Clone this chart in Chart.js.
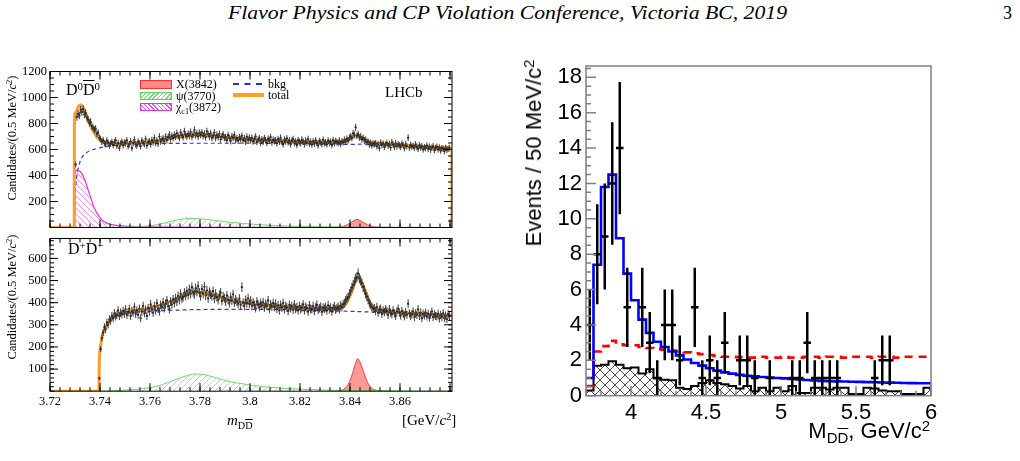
<!DOCTYPE html>
<html>
<head>
<meta charset="utf-8">
<title>D Dbar mass spectra</title>
<script src="https://cdn.jsdelivr.net/npm/chart.js@4.4.1/dist/chart.umd.min.js"></script>
<style>
  body { margin: 0; width: 1020px; height: 461px; background: #fff; position: relative; overflow: hidden; font-family: 'Liberation Serif', serif; color: #000; }
  .t { position: absolute; white-space: nowrap; line-height: 1; }
  canvas { position: absolute; }
  .sup { font-size: 68%; position: relative; top: -0.5em; }
  .sub { font-size: 68%; position: relative; top: 0.35em; }
  .ov { text-decoration: overline; }
  .rot { transform: translate(-50%, -50%) rotate(-90deg); }
  .sw { position: absolute; box-sizing: border-box; }
  .sans { font-family: 'Liberation Sans', Arial, sans-serif; }
</style>
</head>
<body>
<div id="hdr" class="t" style="left:228px; top:4px; font-size:18px; font-style:italic; transform-origin:0 0;">Flavor Physics and CP Violation Conference, Victoria BC, 2019</div>
<div class="t" style="left:1003px; top:4px; font-size:18px;">3</div>

<canvas id="topChart" width="460" height="178" style="left:0; top:60px;"></canvas>
<canvas id="botChart" width="460" height="200" style="left:0; top:228px;"></canvas>
<canvas id="rightChart" width="460" height="421" style="left:500px; top:40px;"></canvas>

<!-- left panel labels -->
<div class="t rot" style="left:12px; top:138px; font-size:12.5px;">Candidates/(0.5 MeV/<i>c</i><span class="sup">2</span>)</div>
<div class="t rot" style="left:12px; top:297px; font-size:12.5px;">Candidates/(0.5 MeV/<i>c</i><span class="sup">2</span>)</div>
<div class="t" style="left:66px; top:82px; font-size:16px;">D<span class="sup">0</span><span class="ov">D</span><span class="sup">0</span></div>
<div class="t" style="left:68px; top:241px; font-size:16px;">D<span class="sup">+</span>D<span class="sup">&minus;</span></div>
<div class="t" style="left:385px; top:85px; font-size:15px;">LHCb</div>
<div class="t" style="left:227px; top:413px; font-size:15px;"><i>m</i><span class="sub">D<span class="ov">D</span></span></div>
<div class="t" style="left:402px; top:413px; font-size:15px;">[GeV/<i>c</i><span class="sup">2</span>]</div>

<!-- legend -->
<div class="sw" style="left:140px; top:80px; width:32px; height:9px; background:#ff8a8a; border:1px solid #ff3030;"></div>
<div class="sw" style="left:140px; top:92px; width:32px; height:8px; border:1px solid #55d855; background:repeating-linear-gradient(135deg, #66dd66 0 1px, #fff 1px 3px);"></div>
<div class="sw" style="left:140px; top:103px; width:32px; height:8px; border:1px solid #e033e0; background:repeating-linear-gradient(45deg, #e055e0 0 1px, #fff 1px 3px);"></div>
<div class="t" style="left:176px; top:78px; font-size:12px;">X(3842)</div>
<div class="t" style="left:176px; top:90px; font-size:12px;">&psi;(3770)</div>
<div class="t" style="left:176px; top:101px; font-size:12px;">&chi;<span class="sub">c1</span>(3872)</div>
<div class="sw" style="left:233px; top:83px; width:29px; height:0; border-top:2px dashed #2b2bd8;"></div>
<div class="sw" style="left:233px; top:93px; width:31px; height:4px; background:#ffa41c;"></div>
<div class="t" style="left:268px; top:78px; font-size:12px;">bkg</div>
<div class="t" style="left:268px; top:89px; font-size:12px;">total</div>

<!-- right panel labels -->
<div class="t rot sans" style="left:534px; top:153px; font-size:22px;">Events / 50 MeV/c<span class="sup">2</span></div>
<div class="t sans" style="right:90px; top:420px; font-size:22px;">M<span class="sub">D<span class="ov">D</span></span>, GeV/c<span class="sup">2</span></div>

<script>
// ---------- tick labels ----------
const topYTicks = [200, 400, 600, 800, 1000, 1200];
const botYTicks = [100, 200, 300, 400, 500, 600];
const massTicks = [3.72, 3.74, 3.76, 3.78, 3.80, 3.82, 3.84, 3.86];
const rightXTicks = [4, 4.5, 5, 5.5, 6];
const rightYTicks = [0, 2, 4, 6, 8, 10, 12, 14, 16, 18];

// ---------- D0 D0bar candidates, 0.5 MeV bins ----------
const d0Start = 3.73025;
const binStep = 0.0005;
const d0Counts = [
  485, 850, 875, 862, 905, 888, 910, 870, 880, 845,
  830, 805, 812, 780, 765, 752, 760, 722, 728, 690,
  680, 660, 672, 648, 640, 668, 652, 630, 645, 658,
  635, 655, 670, 628, 650, 612, 645, 660, 632, 655,
  648, 670, 625, 640, 662, 610, 650, 675, 640, 630,
  660, 645, 625, 668, 650, 642, 680, 630, 655, 662,
  640, 672, 655, 690, 650, 668, 645, 700, 662, 675,
  685, 660, 700, 672, 695, 715, 680, 705, 690, 712,
  698, 725, 705, 688, 730, 710, 695, 740, 712, 700,
  720, 705, 735, 698, 715, 750, 710, 725, 700, 728,
  712, 730, 705, 722, 695, 740, 718, 700, 725, 690,
  705, 730, 688, 712, 695, 720, 678, 700, 716, 690,
  695, 672, 710, 688, 665, 700, 690, 712, 675, 685,
  668, 695, 680, 705, 670, 688, 660, 698, 675, 690,
  670, 690, 662, 680, 700, 658, 675, 685, 650, 678,
  660, 688, 672, 650, 682, 668, 695, 655, 675, 665,
  672, 648, 680, 660, 690, 658, 640, 675, 662, 685,
  655, 670, 640, 668, 680, 650, 662, 635, 672, 658,
  648, 675, 660, 640, 668, 652, 680, 645, 660, 638,
  662, 645, 670, 650, 632, 665, 655, 642, 675, 648,
  655, 640, 668, 650, 660, 635, 672, 648, 665, 658,
  650, 668, 642, 662, 655, 675, 660, 682, 670, 690,
  700, 690, 725, 712, 770, 705, 718, 692, 700, 678,
  690, 668, 675, 655, 660, 638, 650, 632, 645, 640,
  648, 625, 640, 610, 652, 635, 645, 620, 638, 650,
  630, 642, 615, 655, 638, 620, 648, 625, 640, 632,
  620, 645, 632, 610, 640, 625, 690, 615, 635, 622,
  628, 612, 640, 620, 605, 632, 615, 625, 600, 618,
  610, 630, 605, 622, 598, 615, 625, 595, 612, 620,
  600, 615, 592, 610, 605, 588, 612, 598, 604, 610
];

// ---------- D+ D- candidates, 0.5 MeV bins ----------
const dpStart = 3.73975;
const dpCounts = [
  58, 190, 240, 265, 290, 280, 310, 300, 325, 318,
  340, 330, 352, 338, 345, 365, 340, 355, 348, 362,
  350, 370, 345, 358, 372, 340, 362, 355, 380, 350,
  365, 345, 372, 330, 360, 385, 352, 368, 340, 375,
  360, 392, 370, 355, 385, 365, 398, 372, 360, 390,
  380, 402, 375, 395, 410, 385, 370, 405, 392, 415,
  398, 420, 405, 430, 412, 440, 418, 425, 445, 430,
  452, 435, 460, 440, 470, 448, 438, 465, 450, 475,
  445, 430, 462, 440, 472, 432, 455, 420, 448, 438,
  430, 452, 418, 440, 425, 412, 435, 445, 408, 428,
  420, 405, 432, 412, 398, 425, 410, 438, 400, 415,
  405, 395, 418, 390, 470, 400, 385, 412, 398, 420,
  395, 410, 385, 402, 390, 375, 405, 392, 380, 398,
  388, 402, 378, 395, 385, 410, 372, 392, 382, 398,
  380, 395, 372, 388, 365, 390, 378, 398, 370, 385,
  378, 362, 390, 375, 385, 368, 392, 372, 380, 365,
  385, 370, 378, 392, 365, 382, 375, 360, 388, 372,
  370, 385, 362, 378, 390, 368, 375, 382, 358, 378,
  372, 380, 365, 388, 370, 378, 360, 375, 385, 368,
  375, 382, 370, 388, 380, 392, 398, 410, 418, 425,
  440, 452, 468, 480, 495, 508, 515, 532, 510, 500,
  488, 470, 458, 440, 428, 412, 398, 390, 380, 372,
  375, 362, 380, 355, 368, 372, 350, 365, 358, 370,
  362, 345, 370, 355, 348, 365, 352, 340, 360, 372,
  355, 342, 362, 350, 338, 358, 345, 395, 352, 340,
  348, 360, 335, 352, 345, 370, 340, 355, 330, 350,
  342, 355, 338, 350, 332, 345, 360, 335, 348, 340,
  338, 350, 328, 345, 335, 352, 330, 342, 325, 348,
  340
];

// ---------- fit components [mass, candidates] ----------
const d0Total = [[3.72,0],[3.7297,0],[3.72975,830],[3.7303,885],[3.7312,925],[3.7322,945],[3.7332,925],[3.7342,880],[3.7352,830],[3.7362,785],[3.7372,745],[3.7382,712],[3.7392,688],[3.741,665],[3.743,652],[3.746,646],[3.75,648],[3.755,652],[3.76,660],[3.765,675],[3.77,695],[3.775,710],[3.78,712],[3.785,705],[3.79,695],[3.795,685],[3.80,677],[3.81,667],[3.82,660],[3.83,655],[3.835,655],[3.838,662],[3.8405,685],[3.8427,703],[3.845,690],[3.8475,663],[3.85,650],[3.855,642],[3.86,635],[3.87,622],[3.88075,610],[3.8808,0]];
const d0Bkg = [[3.7297,0],[3.7301,250],[3.7307,390],[3.7315,470],[3.7325,530],[3.734,567],[3.737,597],[3.74,613],[3.745,630],[3.75,640],[3.76,645],[3.78,648],[3.80,648],[3.82,645],[3.84,640],[3.85,642],[3.86,634],[3.87,621],[3.8808,608]];
const d0Chi = [[3.7297,0],[3.72975,440],[3.7305,440],[3.7315,435],[3.7324,425],[3.7335,385],[3.7345,335],[3.7355,275],[3.7365,215],[3.7375,160],[3.7385,120],[3.7395,90],[3.741,55],[3.743,32],[3.746,18],[3.75,11],[3.755,7],[3.76,5],[3.77,3],[3.78,2],[3.80,1],[3.8808,0]];
const d0Psi = [[3.72,0],[3.74,1],[3.75,3],[3.755,6],[3.76,14],[3.764,26],[3.768,45],[3.772,62],[3.776,70],[3.78,67],[3.785,57],[3.79,45],[3.795,35],[3.80,27],[3.81,15],[3.82,9],[3.83,5],[3.84,3],[3.86,1],[3.8808,0]];
const d0X = [[3.832,0],[3.835,2],[3.837,8],[3.839,22],[3.8405,40],[3.842,58],[3.8428,62],[3.8436,58],[3.845,42],[3.847,22],[3.849,8],[3.851,2],[3.854,0]];

const dpTotal = [[3.72,0],[3.7396,0],[3.7397,120],[3.74,185],[3.7405,225],[3.741,255],[3.742,285],[3.743,305],[3.744,320],[3.745,332],[3.747,345],[3.75,355],[3.755,365],[3.76,376],[3.765,392],[3.77,415],[3.774,435],[3.778,447],[3.782,443],[3.786,430],[3.79,416],[3.795,405],[3.80,396],[3.81,385],[3.82,377],[3.83,372],[3.835,374],[3.838,388],[3.8405,445],[3.8425,505],[3.8433,514],[3.8445,495],[3.846,455],[3.848,400],[3.85,372],[3.855,362],[3.86,356],[3.87,349],[3.8808,342]];
const dpBkg = [[3.7396,0],[3.7397,120],[3.74,185],[3.7405,225],[3.741,255],[3.742,284],[3.743,303],[3.744,317],[3.745,327],[3.747,339],[3.75,349],[3.755,357],[3.76,362],[3.77,366],[3.78,369],[3.80,370],[3.82,366],[3.84,361],[3.85,357],[3.86,354],[3.87,348],[3.8808,341]];
const dpPsi = [[3.7396,0],[3.745,2],[3.75,5],[3.755,9],[3.76,16],[3.765,30],[3.77,52],[3.774,68],[3.778,78],[3.782,74],[3.786,62],[3.79,49],[3.795,37],[3.80,28],[3.81,16],[3.82,9],[3.83,5],[3.84,3],[3.86,1],[3.8808,0]];
const dpX = [[3.833,0],[3.836,3],[3.838,13],[3.8395,35],[3.841,80],[3.842,118],[3.8431,147],[3.844,132],[3.8455,85],[3.847,40],[3.8485,15],[3.8505,4],[3.853,1],[3.856,0]];

// ---------- right panel: 50 MeV bins from 3.70 to 6.00 ----------
const histStart = 3.70;
const histWidth = 0.05;
const fitHist = [1.0, 7.4, 11.8, 12.5, 8.9, 6.9, 5.4, 4.3, 3.55, 3.05, 2.75, 2.5, 2.28, 2.05, 1.85, 1.7, 1.55, 1.42, 1.32, 1.25, 1.18, 1.13, 1.09, 1.06, 1.03, 1.0, 0.98, 0.95, 0.92, 0.89, 0.86, 0.84, 0.82, 0.81, 0.8, 0.79, 0.78, 0.77, 0.76, 0.75, 0.74, 0.73, 0.72, 0.71, 0.70, 0.70];
const dashHist = [0.55, 2.5, 2.8, 3.1, 2.9, 2.85, 2.85, 2.75, 2.7, 2.65, 2.6, 2.55, 2.5, 2.45, 2.4, 2.35, 2.3, 2.25, 2.2, 2.2, 2.18, 2.15, 2.15, 2.2, 2.15, 2.15, 2.2, 2.15, 2.15, 2.2, 2.2, 2.15, 2.2, 2.2, 2.15, 2.2, 2.2, 2.2, 2.15, 2.2, 2.2, 2.15, 2.2, 2.2, 2.2, 2.2];
const sideHist = [0.3, 1.7, 1.75, 1.95, 1.75, 1.55, 1.6, 1.25, 1.5, 0.98, 0.9, 0.88, 0.45, 0.38, 0.55, 0.72, 0.88, 0.72, 0.65, 0.55, 0.4, 0.55, 0.25, 0.45, 0.25, 0.45, 0.25, 0.55, 0.15, 0.15, 0.45, 0.45, 0.35, 0.45, 0.45, 0.1, 0.1, 0.45, 0.4, 0.3, 0.25, 0.25, 0.1, 0.1, 0.1, 0.45];
const evMass = [3.725, 3.775, 3.825, 3.875, 3.925, 3.975, 4.075, 4.125, 4.175, 4.225, 4.275, 4.325, 4.425, 4.475, 4.525, 4.575, 4.625, 4.725, 4.775, 4.825, 4.925, 5.075, 5.125, 5.175, 5.225, 5.275, 5.325, 5.375, 5.625, 5.675, 5.725];
const evCount = [4, 8, 9, 12, 14, 5, 5, 3, 1, 4, 4, 2, 5, 1, 2, 1, 3, 2, 2, 1, 1, 1, 1, 3, 1, 1, 1, 1, 1, 2, 2];
const evErr = [2, 2.83, 3, 3.46, 3.74, 2.24, 2.24, 1.73, 1, 2, 2, 1.41, 2.24, 1, 1.41, 1, 1.73, 1.41, 1.41, 1, 1, 1, 1, 1.73, 1, 1, 1, 1, 1, 1.41, 1.41];

// header text is stretched to the width it has on the page
const hdr = document.getElementById('hdr');
hdr.style.transform = `scaleX(${559 / hdr.getBoundingClientRect().width})`;

function pts(pairs) {
  return pairs.map(p => ({ x: p[0], y: p[1] }));
}

function binned(start, step, values) {
  return values.map((v, i) => ({ x: start + i * step, y: v }));
}

function histPoints(values) {
  const out = values.map((v, i) => ({ x: histStart + i * histWidth, y: v }));
  out.push({ x: histStart + values.length * histWidth, y: values[values.length - 1] });
  return out;
}

function hatch(color, dirs, size, width) {
  const c = document.createElement('canvas');
  c.width = c.height = size;
  const g = c.getContext('2d');
  g.strokeStyle = color;
  g.lineWidth = width;
  g.beginPath();
  if (dirs.includes('/')) {
    g.moveTo(-1, size + 1); g.lineTo(size + 1, -1);
    g.moveTo(-1, 1); g.lineTo(1, -1);
    g.moveTo(size - 1, size + 1); g.lineTo(size + 1, size - 1);
  }
  if (dirs.includes('\\')) {
    g.moveTo(-1, -1); g.lineTo(size + 1, size + 1);
    g.moveTo(size - 1, -1); g.lineTo(size + 1, 1);
    g.moveTo(-1, size - 1); g.lineTo(1, size + 1);
  }
  g.stroke();
  return g.createPattern(c, 'repeat');
}

// error bars drawn through the chart scales
const errorBars = {
  id: 'errorBars',
  afterDatasetsDraw(chart) {
    const { ctx, chartArea: a, scales: { x, y } } = chart;
    ctx.save();
    ctx.beginPath();
    ctx.rect(a.left, a.top, a.right - a.left, a.bottom - a.top);
    ctx.clip();
    chart.data.datasets.forEach(ds => {
      if (!ds.errY) return;
      ctx.strokeStyle = ds.errColor;
      ctx.lineWidth = ds.errWidth;
      ctx.beginPath();
      ds.data.forEach((p, k) => {
        const e = ds.errY[k];
        const px = x.getPixelForValue(p.x);
        const py = y.getPixelForValue(p.y);
        ctx.moveTo(px, y.getPixelForValue(Math.max(0, p.y - e)));
        ctx.lineTo(px, y.getPixelForValue(p.y + e));
        if (ds.halfX) {
          ctx.moveTo(x.getPixelForValue(p.x - ds.halfX), py);
          ctx.lineTo(x.getPixelForValue(p.x + ds.halfX), py);
        }
      });
      ctx.stroke();
    });
    ctx.restore();
  }
};

// ROOT-style frame with inward ticks
function frameTicks(spec) {
  return {
    id: 'frameTicks',
    afterDraw(chart) {
      const { ctx, chartArea: a, scales: { x, y } } = chart;
      ctx.save();
      ctx.strokeStyle = spec.color;
      ctx.lineWidth = spec.width;
      ctx.strokeRect(a.left, a.top, a.right - a.left, a.bottom - a.top);
      ctx.beginPath();
      const xs = (list, len) => list.forEach(v => {
        const px = x.getPixelForValue(v);
        ctx.moveTo(px, a.bottom); ctx.lineTo(px, a.bottom - len);
        if (spec.topTicks) { ctx.moveTo(px, a.top); ctx.lineTo(px, a.top + len); }
      });
      const ys = (list, len) => list.forEach(v => {
        const py = y.getPixelForValue(v);
        ctx.moveTo(a.left, py); ctx.lineTo(a.left + len, py);
        if (spec.rightTicks) { ctx.moveTo(a.right, py); ctx.lineTo(a.right - len, py); }
      });
      xs(spec.xMinor, spec.minorLen);
      xs(spec.xMajor, spec.majorLen);
      ys(spec.yMinor, spec.minorLen);
      ys(spec.yMajor, spec.majorLen);
      ctx.stroke();
      ctx.restore();
    }
  };
}

function steps(from, step, count) {
  const out = [];
  for (let i = 0; i <= count; i++) out.push(+(from + i * step).toFixed(4));
  return out;
}

const serif = 'Liberation Serif';
const sans = 'Liberation Sans';
const massMax = 3.8808;
const noGrid = { display: false, drawTicks: false };
const smooth = { cubicInterpolationMode: 'monotone' };

function massPanel(id, opts) {
  const counts = opts.counts;
  const data = binned(opts.start, binStep, counts);
  const datasets = [
    {
      label: 'data', type: 'scatter', data: data, order: 0,
      pointRadius: 1.1, pointBorderWidth: 0, backgroundColor: '#000',
      errY: counts.map(v => Math.sqrt(v)), errColor: '#3a3a3a', errWidth: 1
    },
    { label: 'total', data: pts(opts.total), order: 1, borderColor: '#ff9b2a', borderWidth: 3, ...smooth },
    { label: 'bkg', data: pts(opts.bkg), order: 2, borderColor: '#3535d8', borderWidth: 1.2, borderDash: [4, 3], ...smooth },
    { label: 'psi', data: pts(opts.psi), order: 3, borderColor: '#6add6a', borderWidth: 1, ...smooth,
      fill: 'origin', backgroundColor: hatch('#86e486', '/', 6, 0.8) },
    { label: 'X', data: pts(opts.x), order: 5, borderColor: '#ff3b3b', borderWidth: 1, ...smooth,
      fill: 'origin', backgroundColor: 'rgba(255,100,100,0.65)' }
  ];
  if (opts.chi) {
    datasets.push({ label: 'chi', data: pts(opts.chi), order: 4, borderColor: '#e036e0', borderWidth: 1.2, ...smooth,
      fill: 'origin', backgroundColor: hatch('#ea7aea', '\\', 6, 0.8) });
  }
  const minorY = steps(0, opts.yMinorStep, Math.floor(opts.yMax / opts.yMinorStep));
  return new Chart(document.getElementById(id), {
    type: 'line',
    data: { datasets },
    options: {
      responsive: false,
      animation: false,
      parsing: false,
      layout: { padding: { left: 0, right: 8, top: opts.padTop, bottom: 0 } },
      plugins: { legend: { display: false }, tooltip: { enabled: false } },
      elements: { point: { radius: 0 } },
      scales: {
        x: {
          type: 'linear', min: 3.72, max: massMax,
          afterBuildTicks: s => { s.ticks = massTicks.map(v => ({ value: v })); },
          afterFit: s => { s.height = opts.xHeight; },
          grid: noGrid, border: { display: false },
          ticks: { display: opts.showX, color: '#000', padding: 3, maxRotation: 0, autoSkip: false,
            font: { family: serif, size: 12.5 }, callback: v => String(+v.toFixed(2)) }
        },
        y: {
          type: 'linear', min: 0, max: opts.yMax,
          afterBuildTicks: s => { s.ticks = opts.yTicks.map(v => ({ value: v })); },
          afterFit: s => { s.width = 50; },
          grid: noGrid, border: { display: false },
          ticks: { color: '#000', padding: 3, autoSkip: false, font: { family: serif, size: 12.5 },
            callback: v => String(v) }
        }
      }
    },
    plugins: [errorBars, frameTicks({
      color: '#000', width: 1, topTicks: true, rightTicks: true, majorLen: 8, minorLen: 4,
      xMajor: massTicks.concat([3.88]), xMinor: steps(3.72, 0.004, 40),
      yMajor: opts.yTicks, yMinor: minorY
    })]
  });
}

massPanel('topChart', {
  counts: d0Counts, start: d0Start, total: d0Total, bkg: d0Bkg, psi: d0Psi, x: d0X, chi: d0Chi,
  yMax: 1200, yTicks: topYTicks, yMinorStep: 50, padTop: 11.5, xHeight: 6.5, showX: false
});

massPanel('botChart', {
  counts: dpCounts, start: dpStart, total: dpTotal, bkg: dpBkg, psi: dpPsi, x: dpX,
  yMax: 690, yTicks: botYTicks, yMinorStep: 20, padTop: 5.5, xHeight: 36.8, showX: true
});

// ---------- right panel ----------
new Chart(document.getElementById('rightChart'), {
  type: 'line',
  data: {
    datasets: [
      {
        label: 'data', type: 'scatter', order: 0,
        data: evMass.map((m, i) => ({ x: m, y: evCount[i] })),
        pointRadius: 0, errY: evErr, halfX: histWidth / 2, errColor: '#000', errWidth: 2.5
      },
      { label: 'fit', data: histPoints(fitHist), order: 1, stepped: 'before', borderColor: '#0000ff', borderWidth: 2.6 },
      { label: 'dashed', data: histPoints(dashHist), order: 2, stepped: 'before', borderColor: '#ff0000', borderWidth: 2.6, borderDash: [8, 6] },
      { label: 'sideband', data: histPoints(sideHist), order: 3, stepped: 'before', borderColor: '#000', borderWidth: 2,
        fill: 'origin', backgroundColor: hatch('#222', '/\\', 10, 0.8) }
    ]
  },
  options: {
    responsive: false,
    animation: false,
    parsing: false,
    layout: { padding: { left: 0, right: 29, top: 26, bottom: 0 } },
    plugins: { legend: { display: false }, tooltip: { enabled: false } },
    elements: { point: { radius: 0 } },
    scales: {
      x: {
        type: 'linear', min: 3.7, max: 6.0,
        afterBuildTicks: s => { s.ticks = rightXTicks.map(v => ({ value: v })); },
        afterFit: s => { s.height = 65.3; },
        grid: noGrid, border: { display: false },
        ticks: { color: '#000', padding: 4, maxRotation: 0, autoSkip: false, font: { family: sans, size: 22 },
          callback: v => String(v) }
      },
      y: {
        type: 'linear', min: 0, max: 18.64,
        afterBuildTicks: s => { s.ticks = rightYTicks.map(v => ({ value: v })); },
        afterFit: s => { s.width = 86; },
        grid: noGrid, border: { display: false },
        ticks: { color: '#000', padding: 4, autoSkip: false, font: { family: sans, size: 22 },
          callback: v => String(v) }
      }
    }
  },
  plugins: [errorBars, frameTicks({
    color: '#808080', width: 1.5, topTicks: false, rightTicks: false, majorLen: 10, minorLen: 5,
    xMajor: rightXTicks, xMinor: steps(3.7, 0.1, 23),
    yMajor: rightYTicks, yMinor: steps(0, 0.5, 37)
  })]
});
</script>
</body>
</html>
